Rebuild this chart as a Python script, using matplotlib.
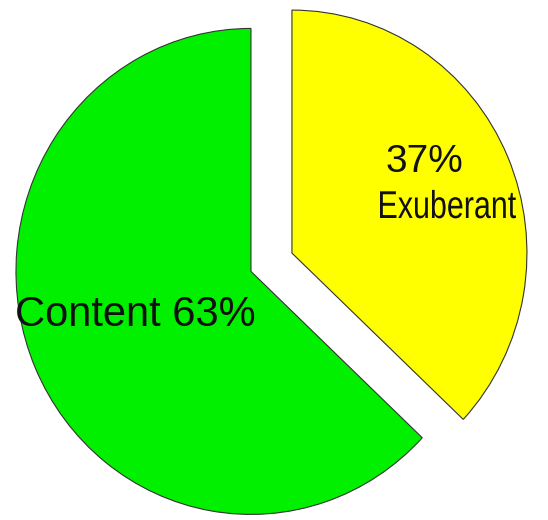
import matplotlib.pyplot as plt
from matplotlib.font_manager import FontProperties
from matplotlib.textpath import TextPath
from matplotlib.patches import PathPatch
from matplotlib.transforms import Affine2D

labels = ["Exuberant", "Content"]
shares = [37, 63]
colors = ["#ffff00", "#00f000"]
explode = [0.19, 0.0]

fig = plt.figure(figsize=(5.48, 5.2), dpi=100)
ax = fig.add_axes([0, 0, 1, 1])

ax.pie(shares, colors=colors, explode=explode, startangle=90, counterclock=False,
       wedgeprops=dict(edgecolor="#333333", linewidth=0.8))

# l'image d'origine est un peu ovale : pas d'aspect égal
ax.set_aspect("auto")
ax.set_xlim(-1.068, 1.264)
ax.set_ylim(-1.023, 1.117)
ax.axis("off")

ax.text(-0.494, -0.179, f"{labels[1]} {shares[1]}%", fontsize=30,
        family="Liberation Sans", color="#111111", ha="center", va="center")
ax.text(0.740, 0.451, f"{shares[0]}%", fontsize=28,
        family="Liberation Sans", color="#111111", ha="center", va="center")

# "Exuberant" est tassé horizontalement dans l'original -> texte en chemin, étiré
fp = FontProperties(family="Liberation Sans")
tp = TextPath((0, 0), labels[0], size=1, prop=fp)
ext = tp.get_extents()
w_px, h_px = 136, 28.5          # largeur et hauteur voulues (pixels)
x_px, y_px = 380, 520 - 218     # coin gauche, ligne de base
tr = (Affine2D().translate(-ext.x0, 0)
      .scale(w_px / ext.width, h_px / ext.height)
      .translate(x_px, y_px).scale(1 / 100) + fig.dpi_scale_trans)
fig.add_artist(PathPatch(tp, transform=tr, facecolor="#111111", edgecolor="none"))

fig.savefig("out.png", dpi=100)
